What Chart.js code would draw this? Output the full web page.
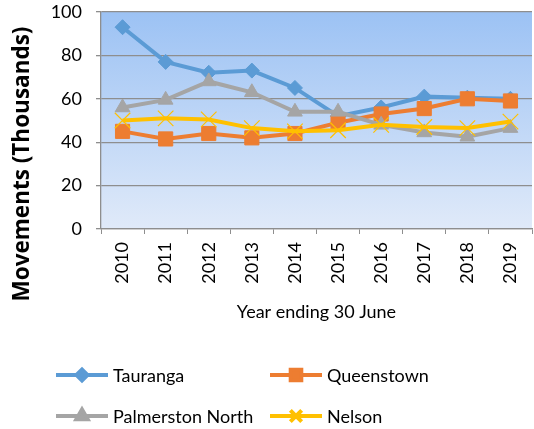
<!DOCTYPE html>
<html>
<head>
<meta charset="utf-8">
<script src="https://cdn.jsdelivr.net/npm/chart.js@4/dist/chart.umd.min.js"></script>
<style>
  html,body{margin:0;padding:0;background:#fff;}
  #wrap{width:534px;height:429px;position:relative;}
</style>
</head>
<body>
<div id="wrap"><canvas id="c" width="534" height="429"></canvas></div>
<script>
/* movements (thousands) */
const years      = ['2010','2011','2012','2013','2014','2015','2016','2017','2018','2019'];
const tauranga   = [93, 77, 72, 73, 65, 52, 56, 61, 60.5, 60];
const queenstown = [45, 41.5, 44, 42, 44, 49, 53, 55.5, 60, 59];
const palmerston = [56, 59.5, 68, 63, 54, 54, 48, 44.5, 42.5, 46.5];
const nelson     = [50, 51, 50.5, 46.5, 45, 45.5, 48, 47, 46.5, 49.5];
const yTicks     = [0, 20, 40, 60, 80, 100];

const FONT="Lato, 'Open Sans', sans-serif";
const GRIDC='#8e8e8e';
const NOPAD=()=>({left:0,top:0,right:0,bottom:0});

function series(label,data,color,style,radius,pbw,order){
  return {label,data,borderColor:color,backgroundColor:color,borderWidth:4,
    pointStyle:style,pointRadius:radius,pointHoverRadius:radius,
    pointBackgroundColor:color,pointBorderColor:color,pointBorderWidth:pbw,
    tension:0,order};
}

const plotBg={
  id:'plotBg',
  beforeDraw(chart){
    const {ctx,chartArea:a}=chart;
    const g=ctx.createLinearGradient(0,a.top,0,a.bottom);
    g.addColorStop(0,'#9cc2f4');
    g.addColorStop(1,'#e0eaf9');
    ctx.save();ctx.fillStyle=g;ctx.fillRect(a.left,a.top,a.right-a.left,a.bottom-a.top);ctx.restore();
  }
};

/* y title drawn by hand: the original centres it lower than the plot */
const yTitle={
  id:'yTitle',
  afterDraw(chart){
    const ctx=chart.ctx;
    ctx.save();
    ctx.translate(23,164);ctx.rotate(-Math.PI/2);
    ctx.fillStyle='#000';ctx.font="bold 22.5px 'Open Sans', sans-serif";
    ctx.textAlign='center';ctx.textBaseline='middle';
    ctx.fillText('Movements (Thousands)',0,0);
    ctx.restore();
  }
};

/* two-column legend like the original */
const legendPos=[[56,375],[270,375],[56,416],[270,416]];
const legendR={rectRot:5.5,rect:7.5,triangle:6.5,crossRot:8};
const sideLegend={
  id:'sideLegend',
  afterDraw(chart){
    const ctx=chart.ctx;
    chart.data.datasets.forEach((ds,i)=>{
      const [x,y]=legendPos[i];
      ctx.save();
      ctx.strokeStyle=ds.borderColor;ctx.lineWidth=4;
      ctx.beginPath();ctx.moveTo(x,y);ctx.lineTo(x+52,y);ctx.stroke();
      ctx.fillStyle=ds.borderColor;ctx.strokeStyle=ds.borderColor;
      Chart.helpers.drawPoint(ctx,{pointStyle:ds.pointStyle,rotation:0,
        radius:legendR[ds.pointStyle],borderWidth:ds.pointBorderWidth},x+26,y);
      ctx.fillStyle='#000';ctx.font='18px '+FONT;ctx.textBaseline='middle';
      ctx.fillText(ds.label,x+57,y+1);
      ctx.restore();
    });
  }
};

new Chart(document.getElementById('c'),{
  type:'line',
  data:{labels:years,datasets:[
    series('Tauranga',tauranga,'#5b9bd5','rectRot',7.5,1,3),
    series('Queenstown',queenstown,'#ed7d31','rect',10,1,2),
    series('Palmerston North',palmerston,'#a5a5a5','triangle',8.5,1,1),
    series('Nelson',nelson,'#ffc000','crossRot',11,1.2,0),
  ]},
  options:{
    responsive:false,animation:false,
    layout:{autoPadding:false,padding:{top:12,right:2,left:0,bottom:106}},
    plugins:{legend:{display:false},tooltip:{enabled:false}},
    scales:{
      x:{
        offset:true,
        grid:{offset:true,drawOnChartArea:false,color:GRIDC,tickLength:5,tickColor:GRIDC},
        border:{color:GRIDC,width:1.3},
        ticks:{color:'#000',font:{family:FONT,size:18},minRotation:90,maxRotation:90,padding:8},
        title:{display:true,text:'Year ending 30 June',color:'#000',font:{family:FONT,size:18},padding:{top:4,bottom:0}},
        afterFit(s){s.height=94;s.paddingLeft=0;s.paddingRight=0;s.getPadding=NOPAD;}
      },
      y:{
        min:0,max:100,
        afterBuildTicks(s){s.ticks=yTicks.map(v=>({value:v}));},
        grid:{color:GRIDC,lineWidth:1.3,tickLength:5},
        border:{color:GRIDC,width:1.3},
        ticks:{color:'#000',font:{family:FONT,size:18},padding:14},
        afterFit(s){s.width=101;s.paddingTop=0;s.paddingBottom=0;s.getPadding=NOPAD;}
      }
    }
  },
  plugins:[plotBg,sideLegend,yTitle]
});
</script>
</body>
</html>
